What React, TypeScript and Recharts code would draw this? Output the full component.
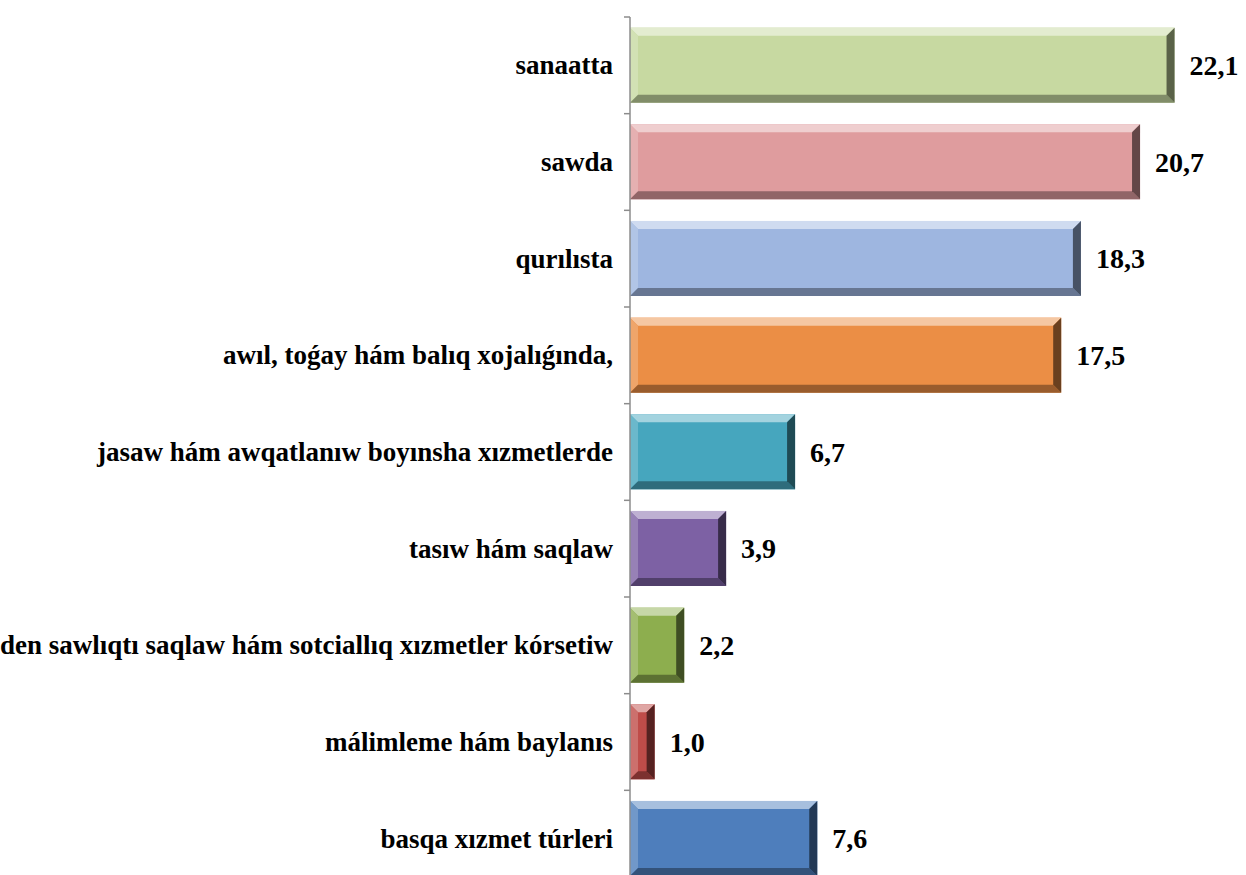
import React from 'react'
import { BarChart, Bar, XAxis, YAxis, Cell, LabelList } from 'recharts'

const categories = [
  'sanaatta',
  'sawda',
  'qurılısta',
  'awıl, toǵay hám balıq xojalıǵında,',
  'jasaw hám awqatlanıw  boyınsha xızmetlerde',
  'tasıw hám saqlaw',
  'den sawlıqtı saqlaw hám sotciallıq xızmetler kórsetiw',
  'málimleme hám baylanıs',
  'basqa xızmet túrleri',
]

const values = [22.1, 20.7, 18.3, 17.5, 6.7, 3.9, 2.2, 1.0, 7.6]

const palette = ['#C7D9A1', '#DF9C9E', '#9EB6E0', '#EB8E45', '#46A6BE', '#7D61A4', '#8DAE4E', '#BF4C49', '#4E7EBC']

const chartData = categories.map((name, i) => ({ name, value: values[i] }))

const FONT = '"Liberation Serif", "Times New Roman", serif'
const BAND = 870 / categories.length

// mix a hex colour toward white (amt > 0) or black (amt < 0)
const shade = (hex: string, amt: number) => {
  const n = parseInt(hex.slice(1), 16)
  const ch = [(n >> 16) & 255, (n >> 8) & 255, n & 255].map(c =>
    Math.round(amt >= 0 ? c + (255 - c) * amt : c * (1 + amt))
  )
  return `rgb(${ch[0]},${ch[1]},${ch[2]})`
}

const BevelBar = (props: any) => {
  const { x, y, width: w, height: h, fill } = props
  if (!w || !h) return null
  const b = Math.min(8, w / 3, h / 3)
  const pts = (arr: number[][]) => arr.map(p => p.join(',')).join(' ')
  return (
    <g>
      <rect x={x} y={y} width={w} height={h} fill={fill} />
      <polygon points={pts([[x, y], [x + w, y], [x + w - b, y + b], [x + b, y + b]])} fill={shade(fill, 0.5)} />
      <polygon points={pts([[x, y], [x + b, y + b], [x + b, y + h - b], [x, y + h]])} fill={shade(fill, 0.2)} />
      <polygon points={pts([[x, y + h], [x + b, y + h - b], [x + w - b, y + h - b], [x + w, y + h]])} fill={shade(fill, -0.35)} />
      <polygon points={pts([[x + w, y], [x + w, y + h], [x + w - b, y + h - b], [x + w - b, y + b]])} fill={shade(fill, -0.55)} />
    </g>
  )
}

const CategoryTick = (props: any) => {
  const { x, y, payload, index } = props
  return (
    <g>
      <line x1={x - 6} x2={x} y1={y - BAND / 2} y2={y - BAND / 2} stroke="#8c8c8c" strokeWidth={1.5} />
      {index === categories.length - 1 && (
        <line x1={x - 6} x2={x} y1={y + BAND / 2} y2={y + BAND / 2} stroke="#8c8c8c" strokeWidth={1.5} />
      )}
      <text x={x - 17} y={y} textAnchor="end" dominantBaseline="central" fontFamily={FONT} fontWeight="bold" fontSize={27} fill="#000">
        {payload.value}
      </text>
    </g>
  )
}

const App = () => {
  return (
    <div style={{ position: 'absolute', left: 0, top: 0, width: 1246, height: 875, overflow: 'hidden', background: '#fff' }}>
      <BarChart
        width={1246}
        height={890}
        data={chartData}
        layout="vertical"
        margin={{ top: 17, right: 0, left: 0, bottom: 3 }}
        barCategoryGap="11%"
      >
        <XAxis type="number" domain={[0, 25]} hide />
        <YAxis
          type="category"
          dataKey="name"
          width={630}
          tickSize={0}
          tickMargin={0}
          tickLine={false}
          axisLine={{ stroke: '#8c8c8c', strokeWidth: 1.5 }}
          tick={<CategoryTick />}
          interval={0}
        />
        <Bar dataKey="value" shape={<BevelBar />} isAnimationActive={false}>
          {chartData.map((d, i) => (
            <Cell key={d.name} fill={palette[i]} />
          ))}
          <LabelList
            dataKey="value"
            position="right"
            offset={15}
            formatter={(v: any) => Number(v).toFixed(1).replace('.', ',')}
            style={{ fontFamily: FONT, fontWeight: 'bold', fontSize: 28, fill: '#000' }}
          />
        </Bar>
      </BarChart>
    </div>
  )
}

export default App
